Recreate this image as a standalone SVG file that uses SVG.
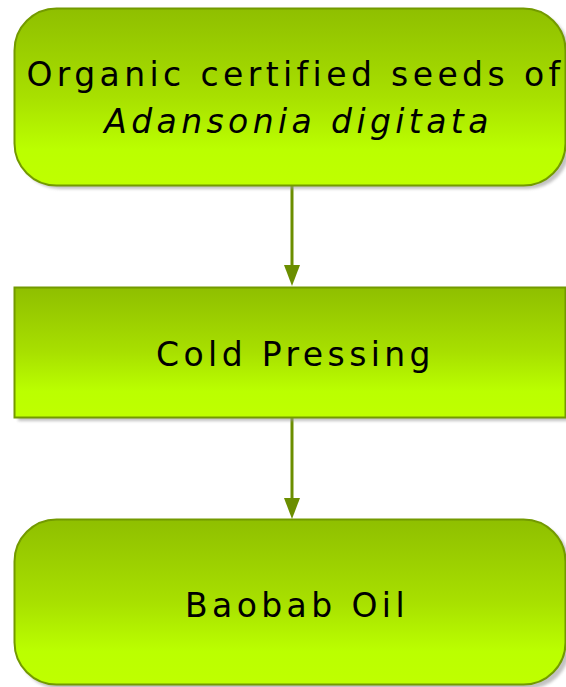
<svg xmlns="http://www.w3.org/2000/svg" width="566" height="687" viewBox="0 0 566 687">
<style>
.box{fill:url(#g);stroke:#739a00;stroke-width:2}
.shadow{fill:#9a9a9a;opacity:0.6}
.t{font-family:"DejaVu Sans","Noto Sans",sans-serif;font-size:33px;letter-spacing:4.4px;fill:#000;text-anchor:middle}
.conn{stroke:#6b8e00;stroke-width:3;fill:none}
</style>
<defs>
<linearGradient id="g" x1="0" y1="0" x2="0" y2="1">
<stop offset="0" stop-color="#8fbf00"/>
<stop offset="0.5" stop-color="#a8e000"/>
<stop offset="0.8" stop-color="#bbff00"/>
<stop offset="1" stop-color="#bfff00"/>
</linearGradient>
<filter id="blur" x="-5%" y="-5%" width="110%" height="120%"><feGaussianBlur stdDeviation="1.5"/></filter>
</defs>
<g id="connectors">
<line class="conn" x1="292" y1="186" x2="292" y2="265"/>
<path d="M284,265 L300,265 L292,286 Z" fill="#6b8e00"/>
<line class="conn" x1="292" y1="418" x2="292" y2="498"/>
<path d="M284,498 L300,498 L292,519 Z" fill="#6b8e00"/>
</g>
<g id="node1">
<rect class="shadow" x="18" y="12" width="552" height="177" rx="42" filter="url(#blur)"/>
<rect class="box" x="14.5" y="8.5" width="551" height="177" rx="42"/>
<text class="t" x="295.5" y="86">Organic certified seeds of</text>
<text class="t" x="298.5" y="133" font-style="italic">Adansonia digitata</text>
</g>
<g id="node2">
<rect class="shadow" x="18" y="291" width="552" height="130" filter="url(#blur)"/>
<rect class="box" x="14.5" y="287.5" width="551" height="130"/>
<text class="t" x="295.5" y="366">Cold Pressing</text>
</g>
<g id="node3">
<rect class="shadow" x="18" y="523" width="552" height="166" rx="42" filter="url(#blur)"/>
<rect class="box" x="14.5" y="519.5" width="551" height="165" rx="42"/>
<text class="t" x="297" y="617">Baobab Oil</text>
</g>
</svg>
